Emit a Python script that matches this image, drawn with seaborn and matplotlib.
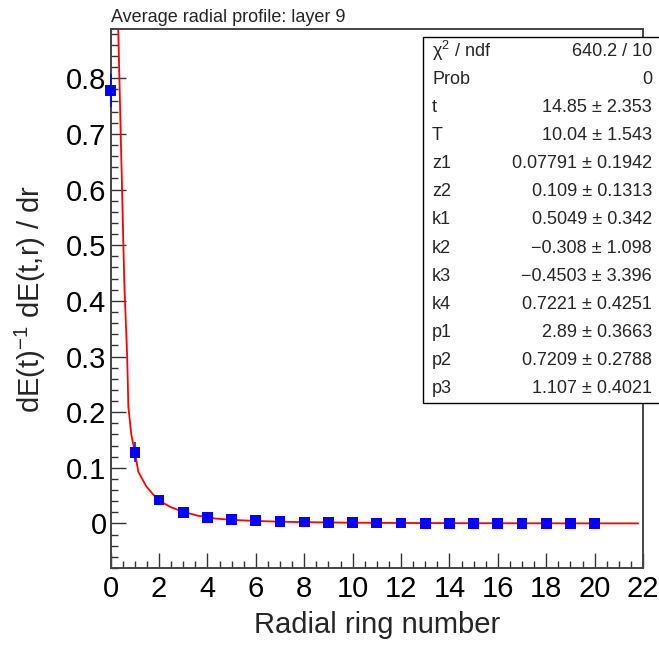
import numpy as np
import pandas as pd
import matplotlib
matplotlib.use('Agg')
import matplotlib.pyplot as plt
from matplotlib.ticker import MultipleLocator, FuncFormatter
from matplotlib.patches import Rectangle
import seaborn as sns

# Data
ring = [0, 1, 2, 3, 4, 5, 6, 7, 8, 9, 10, 11, 12, 13, 14, 15, 16, 17, 18, 19, 20]
profile = [0.778, 0.128, 0.042, 0.020, 0.011, 0.0072, 0.0054, 0.0035, 0.0025, 0.0018,
           0.0013, 0.0010, 0.0008, 0.0006, 0.0005, 0.0004, 0.0003, 0.0002, 0.0002, 0.0001, 0.0001]
profile_err = [0.030, 0.018, 0.003, 0.002, 0.0015, 0.001, 0.001, 0.001, 0.001, 0.001,
               0.001, 0.001, 0.001, 0.001, 0.001, 0.001, 0.001, 0.001, 0.001, 0.001, 0.001]

fit_r = [0.27, 0.31, 0.56, 0.68, 0.73, 0.85, 1.00, 1.14, 1.48, 1.96, 2.5, 3.0, 3.6, 4.3,
         5.0, 6.0, 7.0, 8.0, 10.0, 12.0, 15.0, 18.0, 21.8]
fit_y = [0.95, 0.89, 0.435, 0.30, 0.21, 0.16, 0.128, 0.093, 0.066, 0.042, 0.029, 0.021,
         0.014, 0.009, 0.0065, 0.0045, 0.0032, 0.0024, 0.0014, 0.0009, 0.0005, 0.0003, 0.0002]

# fit statistics box
stat_names = ['χ$^{2}$ / ndf', 'Prob', 't', 'T', 'z1', 'z2', 'k1', 'k2', 'k3', 'k4', 'p1', 'p2', 'p3']
stat_values = ['640.2 / 10', '0', '14.85 ± 2.353', '10.04 ± 1.543', '0.07791 ± 0.1942',
               '0.109 ± 0.1313', '0.5049 ± 0.342', '−0.308 ± 1.098', '−0.4503 ± 3.396',
               '0.7221 ± 0.4251', '2.89 ± 0.3663', '0.7209 ± 0.2788', '1.107 ± 0.4021']

df = pd.DataFrame({'ring': ring, 'profile': profile, 'err': profile_err})
df_fit = pd.DataFrame({'r': fit_r, 'y': fit_y})

sns.set_style('ticks')
plt.rcParams['font.family'] = ['Liberation Sans', 'DejaVu Sans']
plt.rcParams['mathtext.fontset'] = 'custom'
plt.rcParams['mathtext.rm'] = 'Liberation Sans'
plt.rcParams['mathtext.it'] = 'Liberation Sans:italic'
plt.rcParams['mathtext.default'] = 'regular'

W, H = 659, 645
fig = plt.figure(figsize=(W / 100, H / 100), dpi=100)
fig.patch.set_facecolor('white')
ax = fig.add_axes([110.7 / W, 1 - 568 / H, (643 - 110.7) / W, (568 - 29.3) / H])
ax.set_facecolor('white')

# fit curve
sns.lineplot(data=df_fit, x='r', y='y', sort=False, estimator=None, color='#ff0000',
             lw=1.3, ax=ax, zorder=2)

# data points with error bars
ax.errorbar(df['ring'], df['profile'], yerr=df['err'], fmt='none', ecolor='#0000ff',
            elinewidth=1.1, capsize=0, zorder=3, clip_on=False)
sns.scatterplot(data=df, x='ring', y='profile', marker='s', s=60, color='#0000ff',
                edgecolor='none', ax=ax, zorder=4, clip_on=False)

ax.set_xlim(0, 22)
ax.set_ylim(-0.080, 0.888)

ax.xaxis.set_major_locator(MultipleLocator(2))
ax.xaxis.set_minor_locator(MultipleLocator(0.5))
ax.yaxis.set_major_locator(MultipleLocator(0.1))
ax.yaxis.set_minor_locator(MultipleLocator(0.02))
ax.xaxis.set_major_formatter(FuncFormatter(lambda v, p: '%g' % round(v, 3)))
ax.yaxis.set_major_formatter(FuncFormatter(lambda v, p: '%g' % round(v, 3)))

ax.tick_params(axis='both', which='both', direction='in', top=False, right=False,
               colors='#333333', labelcolor='black', width=1)
ax.tick_params(axis='both', which='major', length=11, labelsize=21)
ax.tick_params(axis='both', which='minor', length=5)
ax.tick_params(axis='x', which='major', pad=5)
ax.tick_params(axis='y', which='major', pad=3)

for s in ax.spines.values():
    s.set_visible(True)
    s.set_color('#444444')
    s.set_linewidth(1.4)

ax.set_xlabel('Radial ring number', fontsize=21, labelpad=6)
ax.set_ylabel('dE(t)$^{-1}$ dE(t,r) / dr', fontsize=21)
ax.yaxis.set_label_coords(-0.117, 0.5)

# title
fig.text(111 / W, 1 - 21.7 / H, 'Average radial profile: layer 9', fontsize=13,
         ha='left', va='baseline')

# stats box
box_left, box_right, box_top, box_bottom = 423, 665, 37, 403
fig.patches.append(Rectangle((box_left / W, 1 - box_bottom / H),
                             (box_right - box_left) / W, (box_bottom - box_top) / H,
                             transform=fig.transFigure, facecolor='white',
                             edgecolor='black', lw=1.0, zorder=5))
row_h = (box_bottom - box_top) / len(stat_names)
for i, (name, val) in enumerate(zip(stat_names, stat_values)):
    yc = box_top + row_h * (i + 0.5)
    fig.text(432 / W, 1 - yc / H, name, fontsize=13, ha='left', va='center', zorder=6)
    fig.text(652 / W, 1 - yc / H, val, fontsize=13, ha='right', va='center', zorder=6)

fig.savefig('out.png', dpi=100)
